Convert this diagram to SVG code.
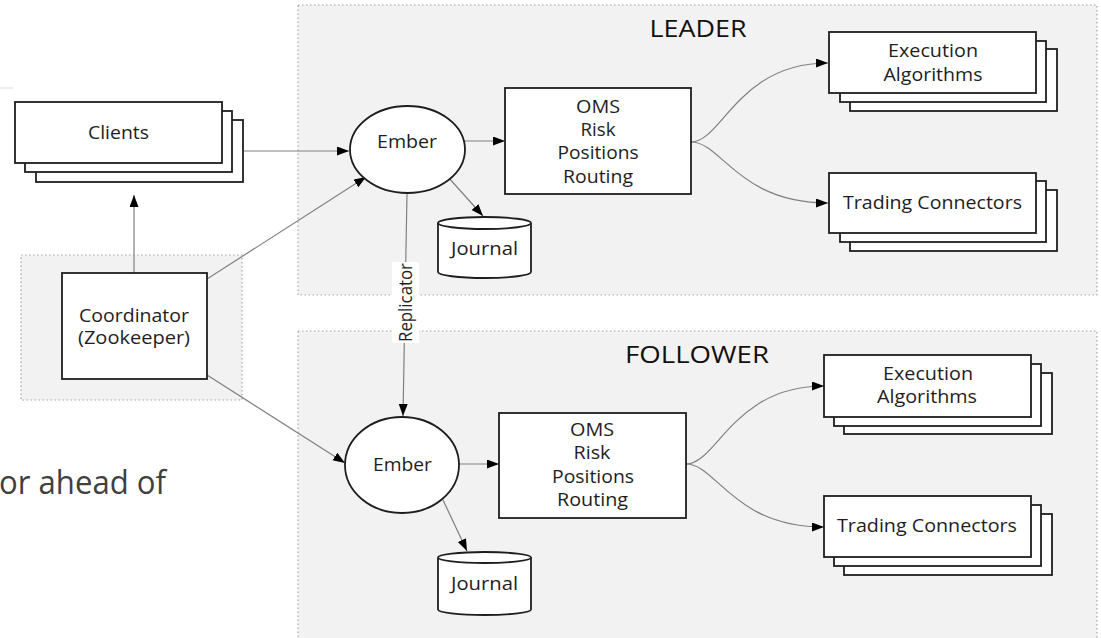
<svg xmlns="http://www.w3.org/2000/svg" width="1101" height="638" viewBox="0 0 1101 638">
<defs>
<style>
.cont{fill:#f2f2f2;stroke:#a6a6a6;stroke-width:1.2;stroke-dasharray:1.5 2.5}
.box{fill:#fff;stroke:#1e1e1e;stroke-width:1.8}
.conn{fill:none;stroke:#808080;stroke-width:1.2}
.lbl{font-family:"Open Sans","Noto Sans",sans-serif;font-size:18px;fill:#1e1e1e;text-anchor:middle}
.title{font-family:"Open Sans","Noto Sans",sans-serif;font-size:23px;fill:#111;text-anchor:middle}
</style>
<marker id="arr" markerUnits="userSpaceOnUse" markerWidth="13" markerHeight="10" refX="12" refY="4.5" orient="auto">
<path d="M0,0 L12,4.5 L0,9 z" fill="#000"/>
</marker>
</defs>
<rect width="1101" height="638" fill="#fff"/>
<rect x="0" y="87" width="13" height="2" fill="#eeeeee"/>

<g id="containers">
<rect id="leader-zone" class="cont" x="298" y="5" width="799" height="290"/>
<rect id="follower-zone" class="cont" x="298" y="331" width="799" height="320"/>
<rect id="coord-zone" class="cont" x="21" y="255" width="221" height="145"/>
<text class="title" x="698" y="37" textLength="97" lengthAdjust="spacingAndGlyphs">LEADER</text>
<text class="title" x="697" y="363" textLength="144" lengthAdjust="spacingAndGlyphs">FOLLOWER</text>
</g>

<text x="-1" y="494" font-family="'Open Sans','Noto Sans',sans-serif" font-size="33" fill="#404040" textLength="167" lengthAdjust="spacingAndGlyphs">or ahead of</text>

<g id="connectors">
<line class="conn" x1="243" y1="151" x2="349" y2="151" marker-end="url(#arr)"/>
<line class="conn" x1="134" y1="273" x2="134" y2="195" marker-end="url(#arr)"/>
<line class="conn" x1="207" y1="279" x2="366" y2="177" marker-end="url(#arr)"/>
<line class="conn" x1="207" y1="375" x2="345" y2="463" marker-end="url(#arr)"/>
<line class="conn" x1="465" y1="141" x2="505" y2="141" marker-end="url(#arr)"/>
<line class="conn" x1="448" y1="177" x2="483" y2="216" marker-end="url(#arr)"/>
<path class="conn" d="M691,142 C722,142 738,63 828,63" marker-end="url(#arr)"/>
<path class="conn" d="M691,142 C722,142 738,203 828,203" marker-end="url(#arr)"/>
<line class="conn" x1="407" y1="193" x2="403" y2="416" stroke="#333" marker-end="url(#arr)"/>
<line class="conn" x1="459" y1="464" x2="499" y2="464" marker-end="url(#arr)"/>
<line class="conn" x1="443" y1="500" x2="467" y2="551" marker-end="url(#arr)"/>
<path class="conn" d="M686,464 C717,464 733,386 824,386" marker-end="url(#arr)"/>
<path class="conn" d="M686,464 C717,464 733,527 824,527" marker-end="url(#arr)"/>
<rect x="392" y="262" width="27" height="81" fill="#fff"/>
<text class="lbl" transform="translate(412,302.5) rotate(-90)" x="0" y="0" font-size="17" textLength="79" lengthAdjust="spacingAndGlyphs">Replicator</text>
</g>

<g id="clients">
<rect class="box" x="36" y="120" width="207" height="62"/>
<rect class="box" x="25" y="111" width="207" height="61"/>
<rect class="box" x="15" y="102" width="207" height="61"/>
<text class="lbl" x="118.5" y="139" textLength="61" lengthAdjust="spacingAndGlyphs">Clients</text>
</g>

<g id="coordinator">
<rect class="box" x="62" y="273" width="145" height="106"/>
<text class="lbl" x="134" y="322" textLength="110" lengthAdjust="spacingAndGlyphs">Coordinator</text>
<text class="lbl" x="134" y="344" textLength="112" lengthAdjust="spacingAndGlyphs">(Zookeeper)</text>
</g>

<g id="leader-ember">
<ellipse class="box" cx="407.5" cy="149.5" rx="57.5" ry="43.5"/>
<text class="lbl" x="407" y="148" textLength="60" lengthAdjust="spacingAndGlyphs">Ember</text>
</g>

<g id="leader-oms">
<rect class="box" x="505" y="88" width="186" height="106"/>
<text class="lbl" x="598" y="113" textLength="44" lengthAdjust="spacingAndGlyphs">OMS</text>
<text class="lbl" x="598" y="136" textLength="35" lengthAdjust="spacingAndGlyphs">Risk</text>
<text class="lbl" x="598" y="159" textLength="81" lengthAdjust="spacingAndGlyphs">Positions</text>
<text class="lbl" x="598" y="183" textLength="70" lengthAdjust="spacingAndGlyphs">Routing</text>
</g>

<g id="leader-journal">
<path class="box" d="M438,223 L438,272 A46.5,6 0 0 0 531,272 L531,223"/>
<ellipse class="box" cx="484.5" cy="223" rx="46.5" ry="6"/>
<text class="lbl" x="484.5" y="255" textLength="67" lengthAdjust="spacingAndGlyphs">Journal</text>
</g>

<g id="leader-exec">
<rect class="box" x="850" y="49" width="207" height="62"/>
<rect class="box" x="840" y="41" width="206" height="61"/>
<rect class="box" x="829" y="32" width="207" height="61"/>
<text class="lbl" x="933" y="57" textLength="90" lengthAdjust="spacingAndGlyphs">Execution</text>
<text class="lbl" x="933" y="81" textLength="99" lengthAdjust="spacingAndGlyphs">Algorithms</text>
</g>

<g id="leader-trading">
<rect class="box" x="850" y="190" width="207" height="61"/>
<rect class="box" x="840" y="181" width="206" height="61"/>
<rect class="box" x="829" y="173" width="207" height="60"/>
<text class="lbl" x="932.5" y="209" textLength="179" lengthAdjust="spacingAndGlyphs">Trading Connectors</text>
</g>

<g id="follower-ember">
<ellipse class="box" cx="402" cy="465" rx="57" ry="48"/>
<text class="lbl" x="402.5" y="471" textLength="59" lengthAdjust="spacingAndGlyphs">Ember</text>
</g>

<g id="follower-oms">
<rect class="box" x="499" y="413" width="187" height="105"/>
<text class="lbl" x="592" y="436" textLength="44" lengthAdjust="spacingAndGlyphs">OMS</text>
<text class="lbl" x="592" y="459" textLength="37" lengthAdjust="spacingAndGlyphs">Risk</text>
<text class="lbl" x="593" y="483" textLength="82" lengthAdjust="spacingAndGlyphs">Positions</text>
<text class="lbl" x="592.5" y="506" textLength="71" lengthAdjust="spacingAndGlyphs">Routing</text>
</g>

<g id="follower-journal">
<path class="box" d="M438,557.5 L438,609.5 A46.5,5.5 0 0 0 531,609.5 L531,557.5"/>
<ellipse class="box" cx="484.5" cy="557.5" rx="46.5" ry="5.5"/>
<text class="lbl" x="484.5" y="590" textLength="67" lengthAdjust="spacingAndGlyphs">Journal</text>
</g>

<g id="follower-exec">
<rect class="box" x="844" y="373" width="208" height="61"/>
<rect class="box" x="834" y="364" width="207" height="62"/>
<rect class="box" x="824" y="355" width="207" height="62"/>
<text class="lbl" x="928" y="380" textLength="90" lengthAdjust="spacingAndGlyphs">Execution</text>
<text class="lbl" x="927" y="403" textLength="100" lengthAdjust="spacingAndGlyphs">Algorithms</text>
</g>

<g id="follower-trading">
<rect class="box" x="844" y="514" width="208" height="61"/>
<rect class="box" x="834" y="505" width="207" height="61"/>
<rect class="box" x="824" y="496" width="207" height="61"/>
<text class="lbl" x="927" y="532" textLength="180" lengthAdjust="spacingAndGlyphs">Trading Connectors</text>
</g>
</svg>
